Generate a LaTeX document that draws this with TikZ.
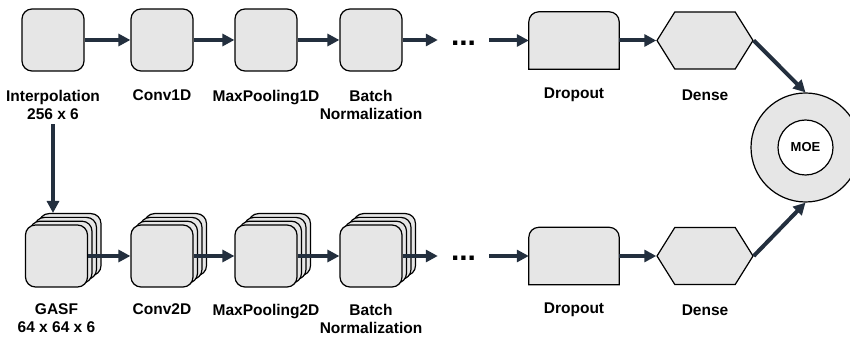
\documentclass[tikz,border=0pt]{standalone}
\usepackage{fontspec}
\setmainfont{Liberation Sans}
\usetikzlibrary{arrows.meta, positioning, shapes.symbols, shadows}
\definecolor{boxfill} {RGB}{230,230,230}
\definecolor{arrowclr}{RGB}{ 35, 47, 62}

\begin{document}
\begin{tikzpicture}[x=1pt, y=1pt,
  font=\fontsize{15.5}{18}\selectfont\bfseries,
  outline/.style={draw=black, line width=1.2pt, fill=boxfill},
  layer/.style={outline, rounded corners=10pt, minimum width=62pt, minimum height=62pt, inner sep=0pt},
  stack/.style={layer,
    copy shadow={shadow xshift=13.5pt, shadow yshift=11.4pt, outline},
    copy shadow={shadow xshift=9pt, shadow yshift=7.6pt, outline},
    copy shadow={shadow xshift=4.5pt, shadow yshift=3.8pt, outline}},
  cell/.style={minimum width=90pt, minimum height=57pt, inner sep=0pt},
  hexa/.style={outline, signal, signal to=west and east, signal pointer angle=116,
    minimum width=96pt, minimum height=57pt, inner sep=0pt},
  flow/.style={-{Triangle[length=12pt, width=12pt]}, line width=4pt, arrowclr},
  caption/.style={align=center, inner sep=0pt},
  dots/.style={font=\fontsize{30}{30}\selectfont\bfseries, minimum width=51pt, inner sep=0pt}]
  \useasboundingbox (0,0) rectangle (850,337);

  % 1D branch
  \node[layer] (int1) at (53,297) {};
  \node[layer] (cv1) at (162,297) {};
  \node[layer] (mp1) at (266,297) {};
  \node[layer] (bn1) at (371,297) {};
  \node[dots] (dt1) at (463.5,294) {...};
  \node[cell] (dr1) at (574,296.5) {};
  \draw[outline] (dr1.south west) -- ([yshift=-10pt]dr1.north west)
    arc[start angle=180, end angle=90, radius=10pt] -- ([xshift=-10pt]dr1.north east)
    arc[start angle=90, end angle=0, radius=10pt] -- (dr1.south east) -- cycle;
  \node[hexa] (dn1) at (705,296.5) {};

  \node[caption, below=18pt of int1] (lint1) {Interpolation\\256 x 6};
  \node[caption, below=18pt of cv1] (lcv1) {Conv1D};
  \node[caption, below=18pt of mp1] (lmp1) {MaxPooling1D};
  \node[caption, below=18pt of bn1] (lbn1) {Batch\\Normalization};
  \node[caption, below=18pt of dr1] (ldr1) {Dropout};
  \node[caption, below=20pt of dn1] (ldn1) {Dense};

  % 2D branch
  \node[stack] (gasf) at (56.5,81) {};
  \node[stack] (cv2) at (162,81) {};
  \node[stack] (mp2) at (266,81) {};
  \node[stack] (bn2) at (371,81) {};
  \node[dots] (dt2) at (463.5,79) {...};
  \node[cell] (dr2) at (574,81) {};
  \draw[outline] (dr2.south west) -- ([yshift=-10pt]dr2.north west)
    arc[start angle=180, end angle=90, radius=10pt] -- ([xshift=-10pt]dr2.north east)
    arc[start angle=90, end angle=0, radius=10pt] -- (dr2.south east) -- cycle;
  \node[hexa] (dn2) at (705,81) {};
  \coordinate (gasftop) at ([yshift=11.4pt]gasf.north);

  \node[caption, below=16pt of gasf] (lgasf) {GASF\\64 x 64 x 6};
  \node[caption, below=16pt of cv2] (lcv2) {Conv2D};
  \node[caption, below=16pt of mp2] (lmp2) {MaxPooling2D};
  \node[caption, below=16pt of bn2] (lbn2) {Batch\\Normalization};
  \node[caption, below=18pt of dr2] (ldr2) {Dropout};
  \node[caption, below=20pt of dn2] (ldn2) {Dense};

  % mixture of experts
  \node[outline, circle, minimum size=109pt, inner sep=0pt] (ring) at (805.5,189.5) {};
  \node[draw=black, line width=1.2pt, fill=white, circle, minimum size=55pt, inner sep=0pt,
    font=\fontsize{13}{13}\selectfont\bfseries] (moe) at (ring) {MOE};

  % connectors
  \draw[flow] (int1) -- (cv1);
  \draw[flow] (cv1) -- (mp1);
  \draw[flow] (mp1) -- (bn1);
  \draw[flow] (bn1) -- (bn1 -| dt1.west);
  \draw[flow] (dt1.east |- dr1) -- (dr1);
  \draw[flow] (dr1) -- (dn1);
  \draw[flow] (dn1.east) -- (ring.north);
  \draw[flow] ([yshift=-5pt]lint1.south) -- (lint1.south |- gasftop);
  \draw[flow] (gasf) -- (cv2);
  \draw[flow] (cv2) -- (mp2);
  \draw[flow] (mp2) -- (bn2);
  \draw[flow] (bn2) -- (bn2 -| dt2.west);
  \draw[flow] (dt2.east |- dr2) -- (dr2);
  \draw[flow] (dr2) -- (dn2);
  \draw[flow] (dn2.east) -- (ring.south);
\end{tikzpicture}
\end{document}
